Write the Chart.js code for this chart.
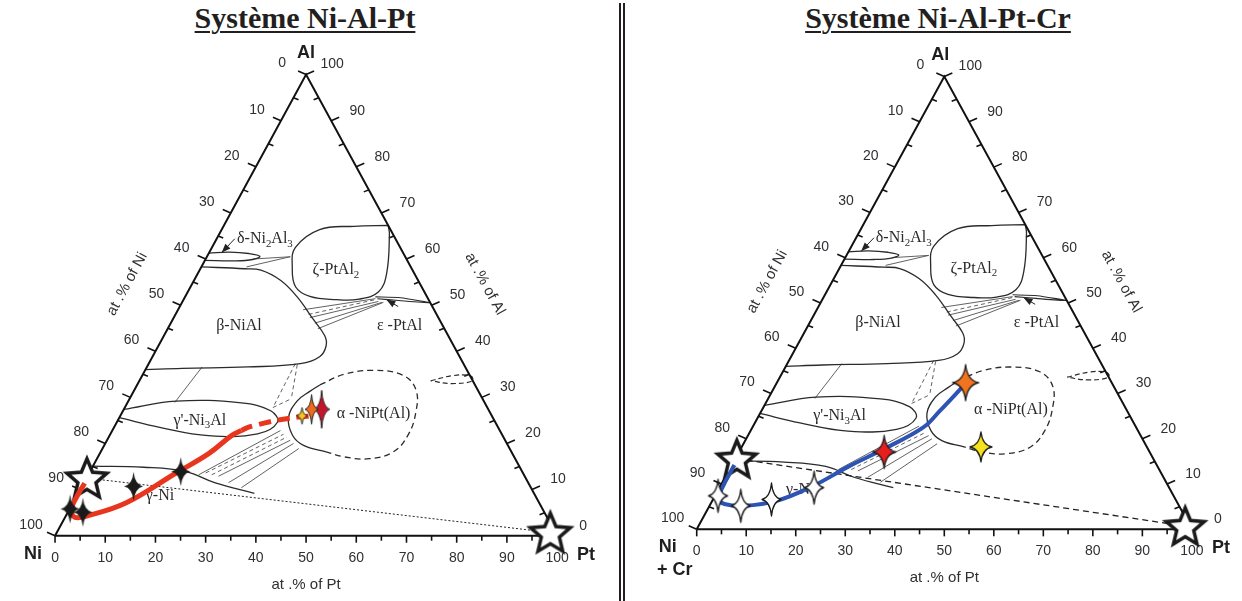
<!DOCTYPE html>
<html><head><meta charset="utf-8">
<script src="https://cdn.jsdelivr.net/npm/chart.js@4.4.1/dist/chart.umd.min.js"></script>
<style>
html,body{margin:0;padding:0;background:#fff;width:1242px;height:601px;overflow:hidden;position:relative;}
.title{position:absolute;top:3px;line-height:30px;font-family:"Liberation Serif","Times New Roman",serif;font-weight:bold;font-size:30px;color:#231f20;text-decoration:underline;text-decoration-thickness:2px;text-underline-offset:3px;white-space:nowrap;transform:translateX(-50%);}
.sep{position:absolute;top:3px;width:2px;height:598px;background:#231f20;}
canvas{position:absolute;top:0;}
</style></head><body>
<div class="title" style="left:305px">Système Ni-Al-Pt</div>
<div class="title" style="left:938px">Système Ni-Al-Pt-Cr</div>
<div class="sep" style="left:619px"></div>
<div class="sep" style="left:623px"></div>
<canvas id="c1" width="619" height="601" style="left:0"></canvas>
<canvas id="c2" width="616" height="601" style="left:626px"></canvas>
<script>
// ---------- data: compositions as [at.% Pt, at.% Al] ----------
const majorTicks = [0,10,20,30,40,50,60,70,80,90,100];
const minorTicks = [5,15,25,35,45,55,65,75,85,95];
const tickLabels = majorTicks.map(String);

const triangleEdge = [[0,0],[100,0],[0,100],[0,0]];
const betaNiAl = [[0,58.3],[8.8,57.9],[12.2,57.6],[17.2,55.4],[22.2,51.9],[28.0,46.9],[32.0,43.4],[33.4,41.2],[33.3,38.8],[30.2,37.3],[20.1,36.6],[7.2,36.3],[0,36.0]];
const deltaNi2Al3 = [[0,61.3],[4,61.5],[8,61.2],[10.5,60.6],[9.4,59.9],[6,59.6],[0,59.7]];
const zetaPtAl2 = [[32.7,67.3],[26.0,67.1],[19.5,66.4],[16.6,62.5],[18.1,58.3],[20.9,54.0],[24.8,51.9],[30.4,51.2],[34.9,51.3],[38.0,52.9],[37.6,56.9],[33.9,65.4],[32.7,67.3]];
const epsilonPtAl = [[37.9,51.8],[43.0,51.6],[49.5,50.5],[43.0,51.0],[38.5,51.4]];
const gammaPrimeNi3Al = [[0,27.4],[9.5,29.2],[22.7,28.8],[29.4,27.1],[32.0,24.6],[29.3,22.1],[19.7,21.7],[9.1,23.5],[0,25.6]];
const gammaSolvus = [[0,15.1],[10.2,14.85],[19.1,13.9],[26.2,11.45],[35.1,9.2]];
const alphaSolid = [[44.9,18.2],[39.7,19.6],[36.4,21.8],[33.7,25.6],[33.6,29.2],[35.1,31.3],[36.4,32.7]];
const alphaDashed = [[36.4,32.7],[40.1,35.0],[45.6,35.85],[51.9,34.8],[56.1,31.6],[58.5,26.7],[59.4,21.8],[58.3,18.2],[54.2,16.7],[49.0,17.1],[44.9,18.2]];
const smallDashed = [[58.0,33.6],[61.8,34.7],[65.3,34.7],[66.4,33.6],[62.5,33.0],[58.0,33.6]];
const tieSolid = [
  [[9.4,60.0],[16.6,60.5]], [[9.0,58.3],[16.6,60.5]],
  [[24.9,49.0],[38.1,51.4]], [[27.1,47.3],[39.0,50.8]], [[28.7,46.1],[39.8,50.6]], [[29.9,44.9],[40.1,50.6]],
  [[9.4,28.9],[11.0,36.6]],
  [[22.0,13.2],[33.5,22.8]], [[26.1,12.9],[36.5,20.7]], [[28.8,11.5],[37.5,20.0]], [[31.9,10.4],[39.1,18.9]]
];
const tieDashed = [
  [[26.5,48.0],[38.2,51.2]],
  [[29.2,37.3],[29.5,27.8]], [[29.7,37.1],[32.2,29.7]], [[29.5,27.8],[32.2,29.7]],
  [[23.2,13.6],[34.5,22.0]], [[24.6,13.2],[35.5,21.4]]
];
const arrowsFromTo = [[[3.6,64.4],[2.5,61.4]], [[43.5,49.7],[40.4,51.2]]];
const phaseNames = [
  [['δ-Ni',0],['2',1],['Al',0],['3',1]],
  [['ζ-PtAl',0],['2',1]],
  [['β-NiAl',0]],
  [['ε -PtAl',0]],
  [["γ'-Ni",0],['3',1],['Al',0]],
  [['α -NiPt(Al)',0]],
  [['γ-Ni',0]]
];
const phaseAnchors = [[9.5,64.6],[27.0,57.9],[13.7,45.85],[45.7,45.85],[16.2,25.3],[50.1,26.7],[16.4,9.0]];

// left panel (Ni-Al-Pt)
const redPathSolid = [[0.2,11.4],[0.1,8.0],[0.4,5.8],[1.9,4.0],[4.3,4.3],[10.7,7.2],[17.3,13.6],[21.7,17.8],[24.3,21.7],[25.7,22.8]];
const redPathDashed = [[25.7,22.8],[26.7,23.5],[31.1,24.9],[34.7,25.6],[38.4,26.0]];
const blackStarsL = [[10.3,10.7],[18.1,13.9],[3.0,5.1],[0.1,5.8]];
const yellowStarL = [[36.2,26.0]];
const orangeStarL = [[37.4,27.4]];
const redStarL = [[39.4,27.4]];
const bigStarsL = [[0.1,12.5],[98.3,0.7]];
const guideL = [[0.1,12.5],[98.3,0.7]];

// right panel (Ni-Al-Pt-Cr)
const bluePath = [[0.5,14.2],[0.6,8.8],[1.2,6.65],[2.8,5.6],[6.9,5.2],[13.0,6.3],[18.6,9.5],[23.7,13.85],[29.0,17.8],[34.5,22.5],[36.0,26.1],[38.1,31.9]];
const whiteStarsR = [[0.6,7.4],[6.3,5.2],[11.8,6.6],[19.1,9.2]];
const redStarR = [[29.3,17.1]];
const orangeStarR = [[38.1,32.4]];
const yellowStarR = [[48.3,18.2]];
const bigStarsR = [[0.3,15.6],[98.3,0.7]];
const guideR = [[0.3,15.6],[98.3,0.7]];

// ---------- helpers ----------
const T = c => ({x: c[0] + c[1]/2, y: c[1]});

function star4(w, h, fill, stroke, lw){
  const pad = Math.ceil(lw) + 2;
  const c = document.createElement('canvas');
  c.width = Math.ceil(w + 2*pad); c.height = Math.ceil(h + 2*pad);
  const g = c.getContext('2d');
  g.translate(c.width/2, c.height/2);
  const a = w/2, b = h/2, k = 0.13;
  g.beginPath();
  g.moveTo(0,-b);
  g.quadraticCurveTo(a*k,-b*k, a,0);
  g.quadraticCurveTo(a*k, b*k, 0,b);
  g.quadraticCurveTo(-a*k, b*k, -a,0);
  g.quadraticCurveTo(-a*k,-b*k, 0,-b);
  g.closePath();
  g.fillStyle = fill; g.fill();
  if (lw > 0){ g.lineWidth = lw; g.strokeStyle = stroke; g.lineJoin = 'round'; g.stroke(); }
  return c;
}
function star5(R, r, lw){
  const pad = Math.ceil(lw) + 3;
  const c = document.createElement('canvas');
  c.width = c.height = Math.ceil(2*R + 2*pad);
  const g = c.getContext('2d');
  g.translate(c.width/2, c.height/2 + R*0.08);
  g.beginPath();
  for (let i = 0; i < 10; i++){
    const ang = -Math.PI/2 + i*Math.PI/5, rr = i % 2 ? r : R;
    const x = rr*Math.cos(ang), y = rr*Math.sin(ang);
    i ? g.lineTo(x,y) : g.moveTo(x,y);
  }
  g.closePath();
  g.fillStyle = '#fff'; g.fill();
  g.lineWidth = lw; g.strokeStyle = '#1a1a1a'; g.lineJoin = 'miter'; g.stroke();
  return c;
}

function lineDs(arr, color, width, dash, tension, order){
  return {data: arr.map(T), showLine: true, pointRadius: 0, borderColor: color, borderWidth: width,
          borderDash: dash || [], tension: tension || 0, fill: false, order: order, clip: false};
}
function pointDs(arr, style, order){
  return {data: arr.map(T), showLine: false, pointRadius: 5, pointStyle: style, order: order, clip: false};
}
function diagramDatasets(){
  const ds = [];
  const PH = '#2b2b2b', TIE = '#505050';
  ds.push(lineDs(triangleEdge, '#111', 2, null, 0, 4));
  [betaNiAl, deltaNi2Al3, zetaPtAl2, gammaPrimeNi3Al, gammaSolvus, alphaSolid].forEach(a => ds.push(lineDs(a, PH, 1.3, null, 0.4, 5)));
  ds.push(lineDs(epsilonPtAl, PH, 1.1, null, 0.2, 5));
  ds.push(lineDs(alphaDashed, PH, 1.3, [6,4], 0.4, 5));
  ds.push(lineDs(smallDashed, PH, 1.2, [5,3], 0.4, 5));
  tieSolid.forEach(a => ds.push(lineDs(a, TIE, 0.9, null, 0, 6)));
  tieDashed.forEach(a => ds.push(lineDs(a, TIE, 0.9, [4,3], 0, 6)));
  return ds;
}

function drawRich(ctx, parts, cx, cy, size){
  const subSize = size*0.68;
  let total = 0;
  const ws = parts.map(p => { ctx.font = (p[1] ? subSize : size) + 'px "Liberation Serif", serif'; const w = ctx.measureText(p[0]).width; total += w; return w; });
  let x = cx - total/2;
  ctx.textAlign = 'left'; ctx.textBaseline = 'alphabetic';
  parts.forEach((p,i) => {
    ctx.font = (p[1] ? subSize : size) + 'px "Liberation Serif", serif';
    ctx.fillText(p[0], x, cy + size*0.35 + (p[1] ? size*0.22 : 0));
    x += ws[i];
  });
}

const ternPlugin = {
  id: 'tern',
  beforeDatasetsDraw(chart, args, o){
    const ctx = chart.ctx, xs = chart.scales.x, ys = chart.scales.y;
    const P = c => [xs.getPixelForValue(c[0] + c[1]/2), ys.getPixelForValue(c[1])];
    const axes = {
      bottom: v => [v, 0],
      left: v => [0, 100 - v],
      right: v => [100 - v, v]
    };
    const dir = {
      bottom: {maj:[0,7], min:[0,5], lab:[0,22]},
      left: {maj:[-8,-3.5], min:[5,2], lab:[-24,-11]},
      right: {maj:[8,-3.5], min:[-5,2], lab:[26,-10]}
    };
    ctx.save();
    ctx.strokeStyle = '#111'; ctx.lineWidth = 1.6; ctx.lineCap = 'butt';
    ctx.fillStyle = '#2f3033';
    ctx.font = '14px "Liberation Sans", Arial, sans-serif';
    ctx.textAlign = 'center'; ctx.textBaseline = 'middle';
    for (const k of Object.keys(axes)){
      const d = dir[k];
      minorTicks.forEach(v => { const [x,y] = P(axes[k](v)); ctx.beginPath(); ctx.moveTo(x,y); ctx.lineTo(x+d.min[0], y+d.min[1]); ctx.stroke(); });
      majorTicks.forEach((v,i) => {
        const [x,y] = P(axes[k](v));
        ctx.beginPath(); ctx.moveTo(x,y); ctx.lineTo(x+d.maj[0], y+d.maj[1]); ctx.stroke();
        ctx.fillText(tickLabels[i], x + d.lab[0], y + d.lab[1]);
      });
    }
    // vertex labels
    const vNi = P([0,0]), vPt = P([100,0]), vAl = P([0,100]);
    ctx.fillStyle = '#1e1e1e';
    ctx.font = 'bold 18px "Liberation Sans", Arial, sans-serif';
    ctx.fillText('Al', vAl[0] + o.alOff[0], vAl[1] + o.alOff[1]);
    ctx.fillText('Pt', vPt[0] + 29, vPt[1] + 19);
    o.niText.forEach((t,i) => ctx.fillText(t, vNi[0] + o.niOff[i][0], vNi[1] + o.niOff[i][1]));
    // axis titles
    ctx.fillStyle = '#2f3033';
    ctx.font = '15px "Liberation Sans", Arial, sans-serif';
    ctx.fillText('at .% of Pt', (vNi[0]+vPt[0])/2, vNi[1] + 49);
    const titleOnEdge = (a, b, text, sign) => {
      const dx = b[0]-a[0], dy = b[1]-a[1], L = Math.hypot(dx,dy);
      const ux = dx/L, uy = dy/L;
      let nx = uy, ny = -ux; // normal
      if (nx*sign < 0){ nx = -nx; ny = -ny; }
      const mx = (a[0]+b[0])/2 + nx*57, my = (a[1]+b[1])/2 + ny*57;
      const down = uy > 0 ? 1 : -1;
      ctx.save();
      ctx.translate(mx + ux*7*down, my + uy*7*down);
      ctx.rotate(Math.atan2(dy,dx));
      ctx.fillText(text, 0, 0);
      ctx.restore();
    };
    titleOnEdge(vNi, vAl, 'at .% of Ni', -1);
    titleOnEdge(vAl, vPt, 'at .% of Al', 1);
    // phase labels
    ctx.fillStyle = '#2a2a2a';
    phaseNames.forEach((parts,i) => { const [x,y] = P(phaseAnchors[i]); drawRich(ctx, parts, x, y, 16); });
    // arrows
    ctx.strokeStyle = '#222'; ctx.fillStyle = '#222'; ctx.lineWidth = 1;
    arrowsFromTo.forEach(([f,t]) => {
      const a = P(f), b = P(t);
      const ang = Math.atan2(b[1]-a[1], b[0]-a[0]);
      ctx.beginPath(); ctx.moveTo(a[0],a[1]); ctx.lineTo(b[0],b[1]); ctx.stroke();
      ctx.beginPath(); ctx.moveTo(b[0],b[1]);
      ctx.lineTo(b[0]-9*Math.cos(ang)+3.5*Math.sin(ang), b[1]-9*Math.sin(ang)-3.5*Math.cos(ang));
      ctx.lineTo(b[0]-9*Math.cos(ang)-3.5*Math.sin(ang), b[1]-9*Math.sin(ang)+3.5*Math.cos(ang));
      ctx.closePath(); ctx.fill();
    });
    ctx.restore();
  }
};

function makeChart(id, xr, yr, extra, opts){
  return new Chart(document.getElementById(id), {
    type: 'scatter',
    data: {datasets: diagramDatasets().concat(extra)},
    options: {
      responsive: false, animation: false, events: [],
      layout: {padding: 0},
      scales: {
        x: {type:'linear', min: xr[0], max: xr[1], display: false},
        y: {type:'linear', min: yr[0], max: yr[1], display: false}
      },
      plugins: {legend: {display:false}, tooltip: {enabled:false}, tern: opts}
    },
    plugins: [ternPlugin]
  });
}

// left panel: Ni at px 50, Pt at px 562, base y 540.5, apex y 70
makeChart('c1', [-50/5.12, (619-50)/5.12], [(540.5-601)/4.705, 540.5/4.705], [
  lineDs(guideL, '#222', 1, [2,2], 0, 3),
  pointDs(bigStarsL, star5(21, 9.5, 3.5), 2),
  lineDs(redPathSolid, '#e8361e', 5, null, 0.4, 1),
  lineDs(redPathDashed, '#e8361e', 5, [12,7], 0.3, 1),
  pointDs(blackStarsL, star4(19, 29, '#1a1a1a', '#1a1a1a', 0), 0),
  pointDs(yellowStarL, star4(11, 17, '#f5c518', '#222', 1), 0),
  pointDs(orangeStarL, star4(13, 30, '#ee6a1f', '#222', 1), 0),
  pointDs(redStarL, star4(16, 38, '#c3152b', '#222', 1), 0)
], {niText:['Ni'], niOff:[[-22,18]], alOff:[0,-22]});

// right panel: Ni at local px 66, Pt at local px 571, base y 534, apex y 72
makeChart('c2', [-66/5.05, (616-66)/5.05], [(534-601)/4.62, 534/4.62], [
  lineDs(guideR, '#222', 1.3, [6,4], 0, 3),
  pointDs(bigStarsR, star5(20, 9, 3.5), 2),
  lineDs(bluePath, '#2d53b3', 4, null, 0.4, 1),
  pointDs(whiteStarsR, star4(19, 33, '#ffffff', '#1a1a1a', 1.3), 0),
  pointDs(redStarR, star4(23, 33, '#e61e1e', '#1a1a1a', 1.3), 0),
  pointDs(orangeStarR, star4(26, 36, '#f0741f', '#1a1a1a', 1.3), 0),
  pointDs(yellowStarR, star4(22, 30, '#f6e21c', '#1a1a1a', 1.3), 0)
], {niText:['Ni','+ Cr'], niOff:[[-29,18],[-22,41]], alOff:[-4,-22]});
</script>
</body></html>
